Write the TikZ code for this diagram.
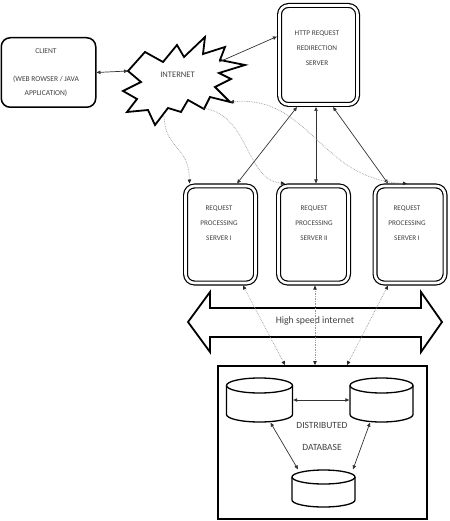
\documentclass[tikz,border=0pt]{standalone}
\usepackage{fontspec}
\setmainfont{Carlito}
\usetikzlibrary{arrows.meta}
\newlength{\du}
\setlength{\du}{1pt}
\definecolor{dialinecolor}{rgb}{0.000000, 0.000000, 0.000000}
\definecolor{diatextcolor}{rgb}{0.250000, 0.250000, 0.250000}
\definecolor{diadotcolor}{rgb}{0.600000, 0.600000, 0.600000}
\tikzset{darktip/.tip={Triangle[length=4pt,width=3.4pt,color=black!85]}}
% disk: centre x, top y, bottom y, half width, cap radius
\newcommand{\dbdisk}[5]{%
  \draw[cylline] (#1,#2+#5) ellipse [x radius=#4, y radius=#5];
  \draw[cylline] (#1-#4,#2+#5) -- (#1-#4,#3-#5) arc[start angle=180, end angle=0, x radius=#4, y radius=#5] -- (#1+#4,#2+#5);
}

\begin{document}
\begin{tikzpicture}[x=1\du,y=-1\du,
  >={Triangle[length=4pt,width=3.4pt]},
  boxstyle/.style={draw=dialinecolor,line width=1.5\du,rounded corners=9\du,inner sep=0pt,outer sep=0.75\du},
  srvstyle/.style={draw=dialinecolor,line width=1.2\du,double,double distance=2.6\du,rounded corners=9\du,inner sep=0pt,outer sep=2.5\du},
  dbstyle/.style={draw=dialinecolor,line width=1.8\du,inner sep=0pt},
  cylbody/.style={inner sep=0pt,outer sep=0.65\du},
  cylline/.style={draw=dialinecolor,line width=1.3\du},
  starstyle/.style={draw=dialinecolor,line width=1.8\du,line join=miter},
  bigarrow/.style={draw=dialinecolor,line width=1.8\du,line join=miter},
  textstyle/.style={color=diatextcolor,inner sep=0pt,outer sep=0pt,align=center,font=\fontsize{7.5}{14}\selectfont},
  linkstyle/.style={<->,draw=black!80,line width=0.7\du},
  dotstyle/.style={draw=diadotcolor,line width=0.7\du,densely dotted}
]
\useasboundingbox (0,0) rectangle (449,521);

% boxes
\node[boxstyle,minimum width=94.5\du,minimum height=69.5\du] (client) at (48.5,72.5) {};
\node[srvstyle,minimum width=78\du,minimum height=99\du] (http) at (318.5,55) {};
\node[srvstyle,minimum width=70\du,minimum height=97\du] (srvA) at (220.5,234.5) {};
\node[srvstyle,minimum width=70\du,minimum height=97\du] (srvB) at (313.5,234.5) {};
\node[srvstyle,minimum width=70\du,minimum height=97\du] (srvC) at (410,234.5) {};
\node[dbstyle,minimum width=209\du,minimum height=153\du] (db) at (322.5,442.5) {};

% disks
\node[cylbody,minimum width=66\du,minimum height=44\du] (cylA) at (259.5,400) {};
\node[cylbody,minimum width=63\du,minimum height=44\du] (cylB) at (381.5,400) {};
\node[cylbody,minimum width=63\du,minimum height=37\du] (cylC) at (323.5,488.5) {};
\dbdisk{259.5}{378}{422}{33}{7.5}
\dbdisk{381.5}{378}{422}{31.5}{7.5}
\dbdisk{323.5}{470}{507}{31.5}{7}

% internet cloud
\draw[starstyle] (128,71) -- (145,52) -- (163,62) -- (177,45) -- (184,57) -- (205,37)
  -- (203,54) -- (225,47) -- (220,60) -- (245,65) -- (219,73) -- (231,79) -- (215,87)
  -- (230,102) -- (210,97) -- (204,109) -- (188,100) -- (181,112) -- (168,108)
  -- (155,125) -- (148,110) -- (127,112) -- (137,99) -- (123,91) -- (141,82) -- cycle;
\coordinate (netL) at (128,71);
\coordinate (netR) at (219,62);
\coordinate (netB) at (164,116);
\coordinate (netC) at (203,108);
\coordinate (netD) at (230,102);

% high speed link
\draw[bigarrow] (188,322) -- (210,292) -- (210,308) -- (421,308) -- (421,292) -- (442,322)
  -- (421,352) -- (421,337) -- (210,337) -- (210,352) -- cycle;

% labels
\node[textstyle] (clientt) at (46,72.5) {CLIENT\\ \\(WEB ROWSER / JAVA\\APPLICATION)};
\node[textstyle,font=\fontsize{8.5}{14}\selectfont] (nett) at (177.5,75) {INTERNET};
\node[textstyle,font=\fontsize{7.3}{15}\selectfont] (httpt) at (317,48) {HTTP REQUEST\\REDIRECTION\\SERVER};
\node[textstyle,font=\fontsize{7.2}{15}\selectfont] (srvAt) at (219,223) {REQUEST\\PROCESSING\\SERVER I};
\node[textstyle,font=\fontsize{7.2}{15}\selectfont] (srvBt) at (314,223) {REQUEST\\PROCESSING\\SERVER II};
\node[textstyle,font=\fontsize{7.2}{15}\selectfont] (srvCt) at (407,223) {REQUEST\\PROCESSING\\SERVER I};
\node[textstyle,font=\fontsize{9.8}{11}\selectfont] (linkt) at (315,321) {High speed internet};
\node[textstyle,font=\fontsize{9.5}{21.5}\selectfont] (dbt) at (322,436.5) {DISTRIBUTED\\DATABASE};

% connectors
\draw[linkstyle] (client.east) -- (netL);
\draw[->,draw=black!80,line width=0.7\du] (netR) -- (http.156);
\draw[linkstyle] ([xshift=-21.5\du]http.south) -- ([xshift=16.5\du]srvA.north);
\draw[linkstyle] ([xshift=-2.5\du]http.south) -- ([xshift=2.5\du]srvB.north);
\draw[linkstyle] ([xshift=14.5\du]http.south) -- ([xshift=-22\du]srvC.north);

\draw[dotstyle,-darktip] (netB) .. controls (165,150) and (189,145) .. ([xshift=-31\du]srvA.north);
\draw[dotstyle,-darktip] (netC) .. controls (250,115) and (245,180) .. ([xshift=-28.5\du]srvB.north);
\draw[dotstyle,darktip-darktip] (netD) .. controls (310,95) and (320,180) .. ([xshift=-3\du]srvC.north);

\draw[dotstyle,darktip-darktip] ([xshift=-37.5\du]db.north) -- ([xshift=22.5\du]srvA.south);
\draw[dotstyle,darktip-darktip] ([xshift=-7.5\du]db.north) -- ([xshift=1.5\du]srvB.south);
\draw[dotstyle,darktip-darktip] ([xshift=24.5\du]db.north) -- ([xshift=-22\du]srvC.south);

\draw[linkstyle] (cylA.east) -- (cylB.west);
\draw[linkstyle] ([xshift=11\du]cylA.south) -- ([xshift=-25.5\du]cylC.north);
\draw[linkstyle] ([xshift=-11.5\du]cylB.south) -- ([xshift=29.5\du]cylC.north);
\end{tikzpicture}
\end{document}
